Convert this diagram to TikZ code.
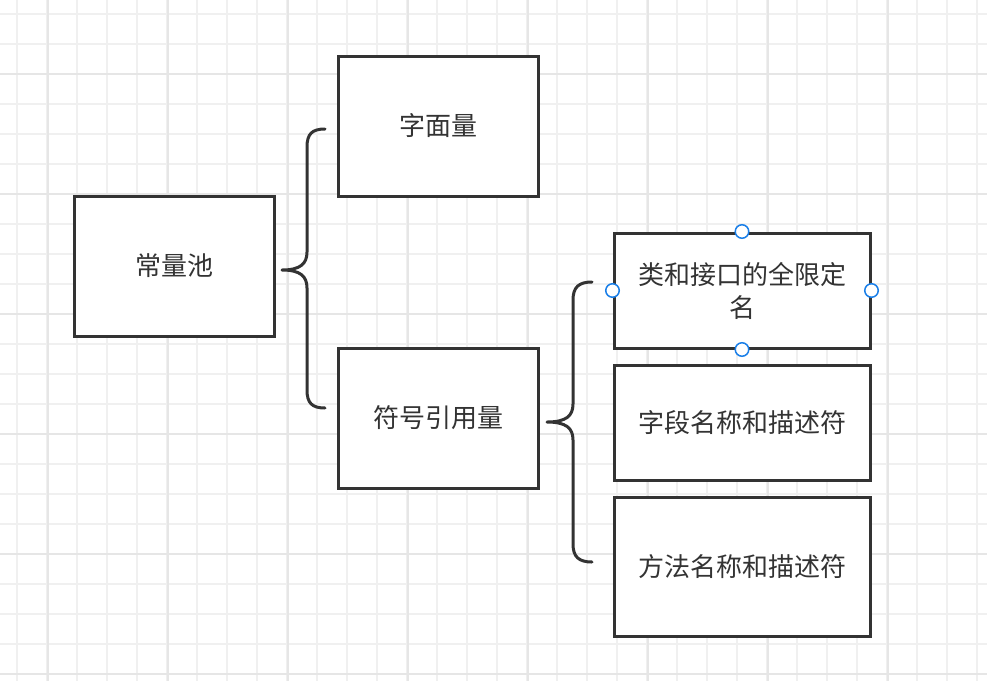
\documentclass[tikz,border=0pt]{standalone}
\usepackage{fontspec}
\newfontfamily\cjk{Noto Sans CJK SC}
\begin{document}
\begin{tikzpicture}[x=1pt,y=-1pt,
  box/.style={draw=boxline,line width=3pt,fill=white,minimum width=#1,inner sep=0pt,font=\cjk\fontsize{26}{33}\selectfont,text=boxline,align=center},
  brace/.style={draw=boxline,line width=3pt,line cap=round,line join=round},
  handle/.style={circle,draw=handleblue,line width=1.5pt,fill=white,minimum size=13.5pt,inner sep=0pt}]
\definecolor{boxline}{HTML}{333333}
\definecolor{gridminor}{HTML}{F0F0F0}
\definecolor{gridmajor}{HTML}{E6E6E6}
\definecolor{handleblue}{HTML}{1A7FE8}
\path[use as bounding box,fill=white] (0,0) rectangle (987,681);
\foreach \i in {0,...,32} {\draw[gridminor,line width=1.5pt] ({17+30*\i},0) -- ({17+30*\i},681);}
\foreach \i in {0,...,22} {\draw[gridminor,line width=1.5pt] (0,{14+30*\i}) -- (987,{14+30*\i});}
\foreach \i in {0,...,7} {\draw[gridmajor,line width=1.5pt] ({48+120*\i},0) -- ({48+120*\i},681);}
\foreach \i in {0,...,5} {\draw[gridmajor,line width=1.5pt] (0,{74+120*\i}) -- (987,{74+120*\i});}
% boxes
\node[box=200pt,minimum height=140pt] (pool) at (174,266) {常量池};
\node[box=200pt,minimum height=140pt] (lit) at (438,126) {字面量};
\node[box=200pt,minimum height=140pt] (sym) at (438,418) {符号引用量};
\node[box=256pt,minimum height=115pt] (cls) at (742,290.5) {类和接口的全限定\\名};
\node[box=256pt,minimum height=115pt] (fld) at (742,422.5) {字段名称和描述符};
\node[box=256pt,minimum height=139pt] (mth) at (742,566.5) {方法名称和描述符};
% braces
\coordinate (b1) at (282,270);
\coordinate (b2) at (547,422);
\draw[brace] (325,129) .. controls (312,129) and (307,134) .. (307,147) -- (307,252)
  .. controls (307,264) and (300,270) .. (b1)
  .. controls (300,270) and (307,276) .. (307,288) -- (307,390)
  .. controls (307,403) and (312,408) .. (325,408);
\draw[brace] (592,282) .. controls (579,282) and (573,287) .. (573,300) -- (573,404)
  .. controls (573,416) and (566,422) .. (b2)
  .. controls (566,422) and (573,428) .. (573,440) -- (573,544)
  .. controls (573,557) and (579,562) .. (592,562);
% selection handles
\node[handle] (h1) at (cls.north) {};
\node[handle] (h2) at (cls.west) {};
\node[handle] (h3) at (cls.east) {};
\node[handle] (h4) at (cls.south) {};
\end{tikzpicture}
\end{document}
